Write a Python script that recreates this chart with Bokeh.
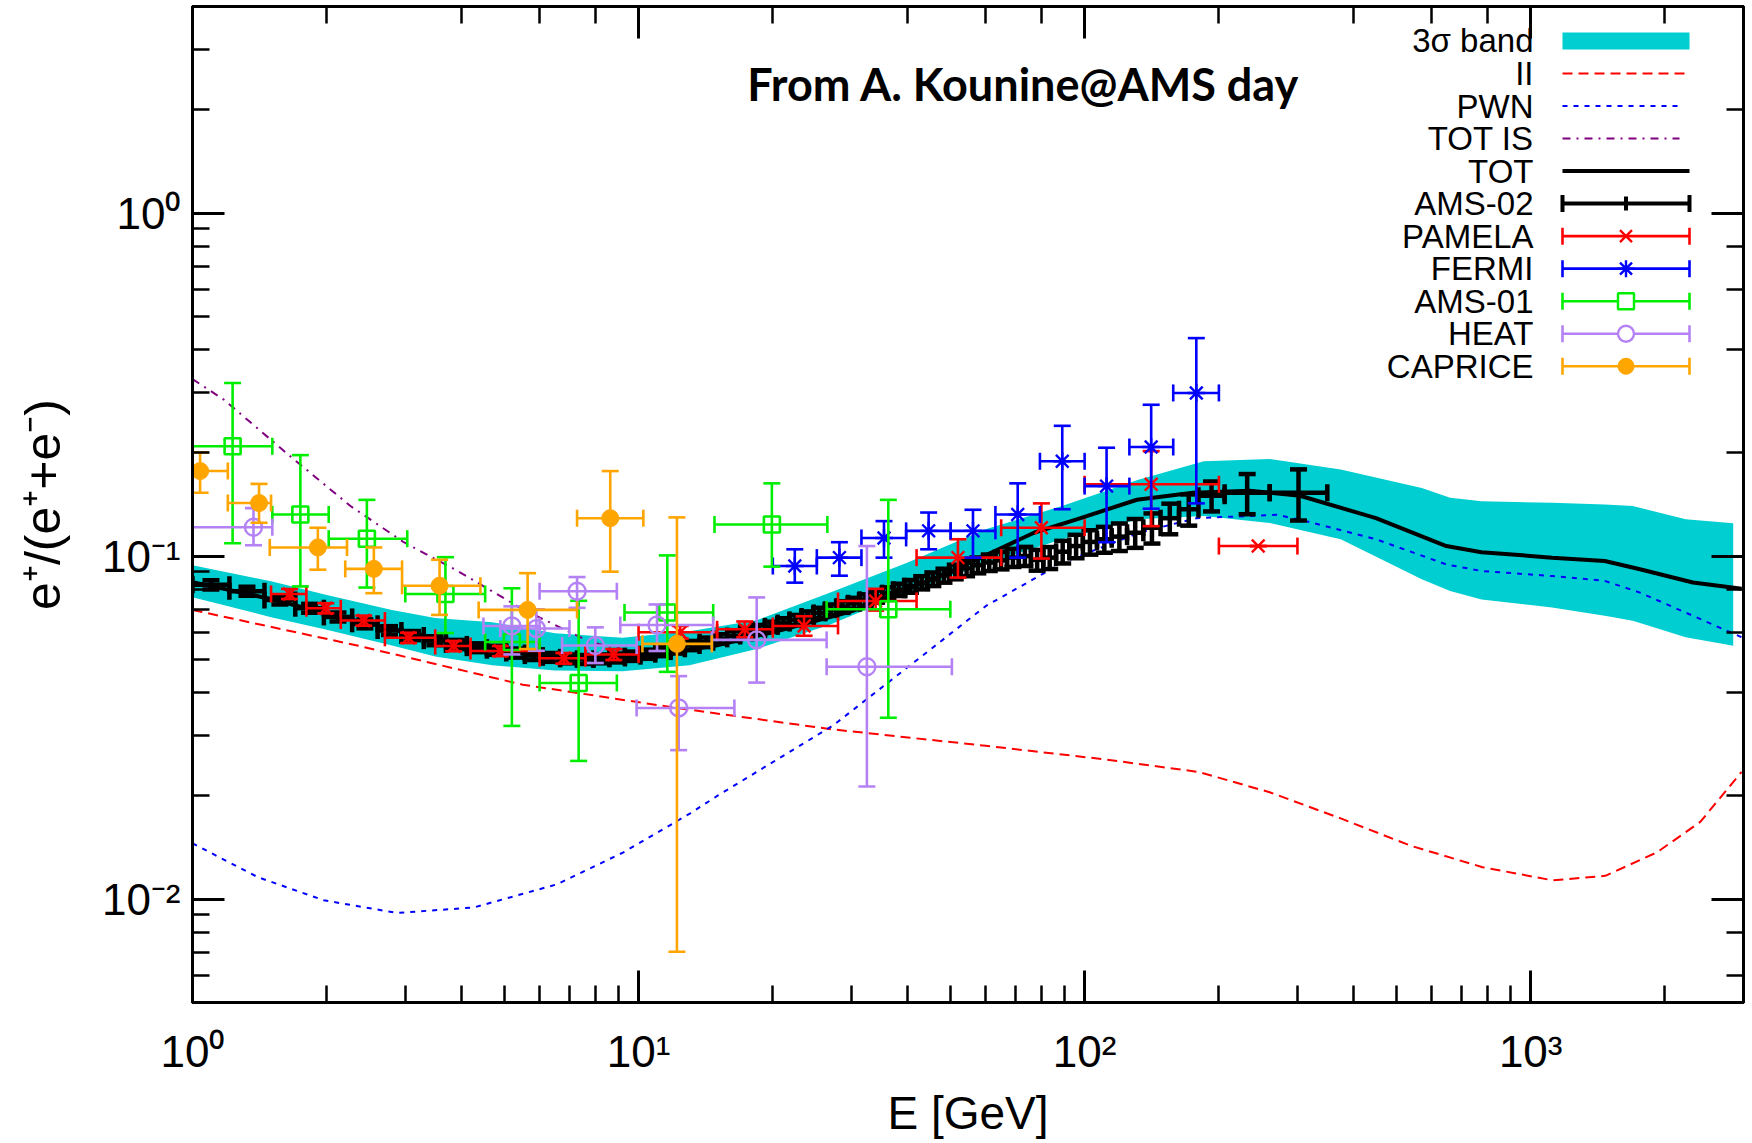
import math
from bokeh.plotting import figure
from bokeh.models import Range1d, LogAxis, LogTicker, CustomJSTickFormatter, Label
from bokeh.embed import file_html
from bokeh.resources import INLINE

# ---------------- data ----------------
band_E = [1.0, 1.5, 2.0, 2.8, 3.5, 4.7, 6.5, 9.2, 13.0, 18.4, 27.0, 40.0, 60.0, 89.0, 132.0,
          185.0, 260.0, 375.0, 570.0, 660.0, 776.0, 1117.0, 1466.0, 1694.0, 2226.0, 2845.0]
band_hi = [0.094, 0.0845, 0.077, 0.0697, 0.066, 0.0642, 0.0596, 0.0578, 0.0604, 0.065, 0.0785,
           0.0957, 0.1197, 0.140, 0.167, 0.189, 0.192, 0.179, 0.158, 0.148, 0.1446, 0.143,
           0.1415, 0.140, 0.128, 0.1246]
band_lo = [0.0759, 0.0664, 0.061, 0.0549, 0.051, 0.0481, 0.0464, 0.0462, 0.0481, 0.0536, 0.0633,
           0.0783, 0.095, 0.112, 0.128, 0.131, 0.125, 0.112, 0.0856, 0.0792, 0.0748, 0.0708,
           0.067, 0.0648, 0.058, 0.0548]

II_E = [1.0, 2.34, 5.5, 12.0, 27.0, 60.0, 110.0, 180.0, 260.0, 375.0, 540.0, 780.0, 1120.0,
        1470.0, 1920.0, 2400.0, 2970.0]
II_y = [0.0697, 0.0549, 0.0422, 0.0362, 0.0313, 0.0280, 0.0256, 0.0235, 0.0205, 0.0172, 0.0143,
        0.0124, 0.01135, 0.0117, 0.0137, 0.0168, 0.0235]

PWN_E = [1.0, 1.4, 1.97, 2.875, 4.27, 6.56, 9.25, 13.06, 15.1, 27.3, 40.5, 60.1, 89.3, 132.5,
         178.0, 270.0, 313.0, 450.0, 647.0, 776.0, 1117.0, 1466.0, 1758.0, 2311.0, 2972.0]
PWN_y = [0.01455, 0.0116, 0.00993, 0.00912, 0.00946, 0.01105, 0.0137, 0.0178, 0.0201, 0.0321,
         0.0479, 0.0716, 0.0957, 0.117, 0.129, 0.132, 0.1265, 0.112, 0.0946, 0.0905, 0.0875,
         0.0847, 0.0783, 0.067, 0.058]

TOTIS_E = [1.0, 1.175, 1.66, 2.26, 2.975, 3.92, 5.53, 7.8, 9.5]
TOTIS_y = [0.328, 0.286, 0.195, 0.140, 0.1098, 0.0907, 0.0697, 0.0562, 0.053]

TOT_E = [1.0, 1.5, 2.0, 3.0, 5.0, 7.0, 10.0, 15.0, 20.0, 30.0, 50.0, 77.0, 96.0, 131.0, 175.0,
         235.0, 304.0, 450.0, 647.0, 776.0, 1117.0, 1466.0, 1758.0, 2311.0, 2972.0]
TOT_y = [0.084, 0.075, 0.068, 0.060, 0.053, 0.0505, 0.0505, 0.055, 0.060, 0.069, 0.090, 0.117,
         0.128, 0.146, 0.153, 0.155, 0.150, 0.129, 0.107, 0.1027, 0.099, 0.0968, 0.0916,
         0.0838, 0.0804]

ams02_edges = [1.00, 1.21, 1.45, 1.70, 1.97, 2.28, 2.60, 2.94, 3.30, 3.70, 4.12, 4.57, 5.05, 5.56,
               6.10, 6.67, 7.28, 7.92, 8.60, 9.32, 10.10, 10.90, 11.80, 12.70, 13.70, 14.70,
               15.80, 16.90, 18.00, 19.20, 20.50, 21.80, 23.20, 24.70, 26.20, 27.80, 29.50,
               31.30, 33.20, 35.20, 37.30, 39.50, 41.90, 44.40, 47.00, 49.80, 52.80, 56.00,
               59.30, 63.00, 67.00, 71.20, 75.80, 80.80, 86.30, 92.40, 99.10, 106.6, 115.0,
               124.5, 135.4, 148.0, 162.8, 180.0, 206.0, 260.0, 350.0]
ams02_y = [0.0825, 0.0790, 0.0745, 0.0705, 0.0665, 0.0635, 0.0607, 0.0587, 0.0567, 0.0553,
           0.0541, 0.0532, 0.0522, 0.0513, 0.0507, 0.0502, 0.0500, 0.0502, 0.0505, 0.0511,
           0.0518, 0.0527, 0.0537, 0.0549, 0.0561, 0.0574, 0.0585, 0.0597, 0.0610, 0.0624,
           0.0638, 0.0652, 0.0667, 0.0683, 0.0698, 0.0713, 0.0729, 0.0746, 0.0763, 0.0780,
           0.0798, 0.0817, 0.0837, 0.0857, 0.0878, 0.0900, 0.0921, 0.0941, 0.0958, 0.0972,
           0.0990, 0.1000, 0.0975, 0.0990, 0.1030, 0.1070, 0.1100, 0.1120, 0.1140, 0.1170,
           0.1210, 0.1290, 0.1370, 0.1500, 0.1530, 0.1530]
ams02_dy = [0.0025, 0.0024, 0.0022, 0.0021, 0.0020, 0.0019, 0.0018, 0.0018, 0.0017, 0.0017,
            0.0016, 0.0016, 0.0016, 0.0015, 0.0015, 0.0015, 0.0015, 0.0015, 0.0015, 0.0016,
            0.0016, 0.0016, 0.0017, 0.0017, 0.0018, 0.0018, 0.0019, 0.0019, 0.0020, 0.0020,
            0.0021, 0.0022, 0.0023, 0.0024, 0.0025, 0.0026, 0.0027, 0.0028, 0.0030, 0.0031,
            0.0033, 0.0035, 0.0037, 0.0039, 0.0041, 0.0044, 0.0047, 0.0050, 0.0053, 0.0057,
            0.0060, 0.0064, 0.0068, 0.0073, 0.0078, 0.0084, 0.0090, 0.0097, 0.0105, 0.0113,
            0.0122, 0.0132, 0.0143, 0.0150, 0.0205, 0.0260]

pamela_E = [1.65, 1.99, 2.42, 3.05, 3.85, 4.9, 6.8, 8.8, 12.4, 17.3, 23.5, 34.0, 52.0, 80.0, 141.0, 245.0]
pamela_Elo = [1.5, 1.8, 2.15, 2.7, 3.5, 4.2, 6.0, 7.6, 10.0, 15.0, 20.0, 28.0, 42.0, 65.0, 100.0, 200.0]
pamela_Ehi = [1.8, 2.15, 2.7, 3.5, 4.2, 6.0, 7.6, 10.0, 15.0, 20.0, 28.0, 42.0, 65.0, 100.0, 200.0, 300.0]
pamela_y = [0.0776, 0.0705, 0.0649, 0.0578, 0.0547, 0.0529, 0.0504, 0.0517, 0.0600, 0.0612, 0.0626,
            0.0740, 0.0990, 0.121, 0.162, 0.107]
pamela_ylo = [0.0750, 0.0681, 0.0627, 0.0558, 0.0528, 0.0511, 0.0486, 0.0498, 0.0575, 0.0580,
              0.0586, 0.0694, 0.0866, 0.0984, 0.1223, 0.107]
pamela_yhi = [0.0802, 0.0729, 0.0671, 0.0598, 0.0566, 0.0547, 0.0522, 0.0536, 0.0626, 0.0645,
              0.0668, 0.0803, 0.112, 0.1425, 0.2023, 0.107]

fermi_E = [22.4, 28.2, 35.5, 44.7, 56.2, 70.8, 89.1, 112.0, 141.0, 178.0]
fermi_Elo = [20.0, 25.1, 31.6, 39.8, 50.1, 63.1, 79.4, 100.0, 126.0, 158.0]
fermi_Ehi = [25.1, 31.6, 39.8, 50.1, 63.1, 79.4, 100.0, 126.0, 158.0, 200.0]
fermi_y = [0.0936, 0.099, 0.113, 0.1185, 0.1185, 0.1323, 0.189, 0.160, 0.208, 0.299]
fermi_ylo = [0.0837, 0.0877, 0.099, 0.1047, 0.099, 0.099, 0.137, 0.1098, 0.1375, 0.1425]
fermi_yhi = [0.1047, 0.1098, 0.1265, 0.134, 0.1365, 0.163, 0.2398, 0.207, 0.2762, 0.432]

ams01_E = [1.23, 1.745, 2.46, 3.69, 5.2, 7.34, 11.6, 19.9, 36.3]
ams01_Elo = [0.95, 1.51, 2.02, 3.0, 4.53, 6.0, 9.3, 14.8, 26.4]
ams01_Ehi = [1.51, 2.02, 3.03, 4.53, 6.0, 8.94, 14.7, 26.5, 50.0]
ams01_y = [0.209, 0.1323, 0.1124, 0.0776, 0.0562, 0.0427, 0.0685, 0.1237, 0.070]
ams01_ylo = [0.109, 0.0816, 0.081, 0.0597, 0.032, 0.0253, 0.046, 0.0932, 0.0338]
ams01_yhi = [0.3195, 0.197, 0.1459, 0.0993, 0.0806, 0.0741, 0.1005, 0.163, 0.1459]

heat_E = [1.37, 5.2, 5.9, 7.28, 8.0, 11.0, 12.3, 18.4, 32.5]
heat_Elo = [0.95, 4.49, 4.9, 6.0, 6.74, 9.1, 9.9, 14.6, 26.4]
heat_Ehi = [1.51, 6.0, 7.0, 8.94, 9.9, 14.7, 16.4, 26.4, 50.4]
heat_y = [0.1214, 0.0626, 0.0615, 0.079, 0.0549, 0.063, 0.0361, 0.057, 0.0476]
heat_ylo = [0.1076, 0.0517, 0.0530, 0.0707, 0.0488, 0.0529, 0.0272, 0.0428, 0.0213]
heat_yhi = [0.138, 0.0714, 0.0700, 0.0869, 0.0620, 0.0723, 0.0447, 0.0758, 0.107]

caprice_E = [1.04, 1.41, 1.91, 2.55, 3.58, 5.64, 8.64, 12.19]
caprice_Elo = [0.9, 1.2, 1.49, 2.2, 2.95, 4.38, 7.28, 10.2]
caprice_Ehi = [1.2, 1.5, 2.22, 2.95, 4.42, 7.28, 10.25, 14.6]
caprice_y = [0.177, 0.1428, 0.106, 0.0918, 0.082, 0.0697, 0.129, 0.0555]
caprice_ylo = [0.153, 0.1251, 0.0913, 0.078, 0.0674, 0.0536, 0.0901, 0.00703]
caprice_yhi = [0.2006, 0.1624, 0.121, 0.106, 0.0976, 0.0892, 0.177, 0.1297]

legend_labels = ["3\u03c3 band", "II", "PWN", "TOT IS", "TOT", "AMS-02", "PAMELA", "FERMI",
                 "AMS-01", "HEAT", "CAPRICE"]
title_text = "From A. Kounine@AMS day"

# ---------------- styling ----------------
CYAN = "#00CED1"
RED = "#FF0000"
BLUE = "#0000FF"
PURPLE = "#800080"
GREEN = "#00EE00"
LAV = "#B482F5"
ORANGE = "#FFA500"
FONT = "Liberation Sans"

X0, X1 = 1.0, 3000.0
Y0, Y1 = 0.005, 4.0
FW, FH = 1551, 998
W, H = 1750, 1141
BL, BT = 192, 6

p = figure(width=W, height=H, x_axis_type="log", y_axis_type="log",
           x_range=Range1d(X0, X1), y_range=Range1d(Y0, Y1),
           output_backend="svg", toolbar_location=None,
           min_border_left=BL, min_border_right=W - BL - FW, min_border_top=BT,
           min_border_bottom=H - BT - FH,
           background_fill_color="white", border_fill_color="white")
p.grid.visible = False
p.outline_line_color = "black"
p.outline_line_width = 3

sup_code = """
const m = {'0':'\u2070','1':'\u00b9','2':'\u00b2','3':'\u00b3','4':'\u2074','5':'\u2075',
           '6':'\u2076','7':'\u2077','8':'\u2078','9':'\u2079','-':'\u207b'};
const e = Math.round(Math.log10(tick));
return '10' + String(e).split('').map(c => m[c]).join('');
"""

xax = p.xaxis[0]
yax = p.yaxis[0]
for ax in (xax, yax):
    ax.formatter = CustomJSTickFormatter(code=sup_code)
    ax.axis_line_width = 3
    ax.axis_line_color = "black"
    ax.major_tick_in = 32
    ax.major_tick_out = 0
    ax.minor_tick_in = 17
    ax.minor_tick_out = 0
    ax.major_tick_line_width = 3
    ax.minor_tick_line_width = 2.5
    ax.major_label_text_font = FONT
    ax.major_label_text_font_size = "44px"
    ax.major_label_text_color = "black"
    ax.axis_label_text_font = FONT
    ax.axis_label_text_font_style = "normal"
    ax.axis_label_text_color = "black"

xax.axis_label = "E [GeV]"
xax.axis_label_text_font_size = "46px"
xax.major_label_standoff = 24
xax.axis_label_standoff = 8
yax.axis_label = "e\u207a/(e\u207a+e\u207b)"
yax.axis_label_text_font_size = "50px"
yax.major_label_standoff = 12
yax.axis_label_standoff = 28

for loc in ("above", "right"):
    ax = LogAxis(ticker=LogTicker(), formatter=CustomJSTickFormatter(code="return '';"),
                 major_label_text_font_size="0px", major_label_standoff=0,
                 axis_line_width=3, major_tick_in=32, major_tick_out=0,
                 minor_tick_in=17, minor_tick_out=0,
                 major_tick_line_width=3, minor_tick_line_width=2.5)
    p.add_layout(ax, loc)

# ---------------- model curves ----------------
p.varea(x=band_E, y1=band_lo, y2=band_hi, fill_color=CYAN, fill_alpha=1.0)
p.line(II_E, II_y, line_color=RED, line_width=2, line_dash="10 6")
p.line(PWN_E, PWN_y, line_color=BLUE, line_width=2, line_dash="5 6")
p.line(TOTIS_E, TOTIS_y, line_color=PURPLE, line_width=2, line_dash="8 6 2 6")
p.line(TOT_E, TOT_y, line_color="black", line_width=4)

CAP = 17


def errbars(xc, xlo, xhi, yc, ylo, yhi, color, lw):
    p.segment(x0=xlo, y0=yc, x1=xhi, y1=yc, line_color=color, line_width=lw)
    p.segment(x0=xc, y0=ylo, x1=xc, y1=yhi, line_color=color, line_width=lw)
    p.scatter(x=xc, y=ylo, marker="dash", size=CAP, line_color=color, line_width=lw)
    p.scatter(x=xc, y=yhi, marker="dash", size=CAP, line_color=color, line_width=lw)
    p.scatter(x=xlo, y=yc, marker="dash", angle=math.pi / 2, size=CAP, line_color=color, line_width=lw)
    p.scatter(x=xhi, y=yc, marker="dash", angle=math.pi / 2, size=CAP, line_color=color, line_width=lw)


# AMS-02
a_lo = ams02_edges[:-1]
a_hi = ams02_edges[1:]
a_c = [math.sqrt(a * b) for a, b in zip(a_lo, a_hi)]
errbars(a_c, a_lo, a_hi, ams02_y,
        [y - d for y, d in zip(ams02_y, ams02_dy)],
        [y + d for y, d in zip(ams02_y, ams02_dy)], "black", 4.5)

# PAMELA
errbars(pamela_E, pamela_Elo, pamela_Ehi, pamela_y, pamela_ylo, pamela_yhi, RED, 2.6)
p.scatter(pamela_E, pamela_y, marker="x", size=18, line_color=RED, line_width=2.4)

# FERMI
errbars(fermi_E, fermi_Elo, fermi_Ehi, fermi_y, fermi_ylo, fermi_yhi, BLUE, 2.6)
p.scatter(fermi_E, fermi_y, marker="asterisk", size=18, line_color=BLUE, line_width=2.4)

# AMS-01
errbars(ams01_E, ams01_Elo, ams01_Ehi, ams01_y, ams01_ylo, ams01_yhi, GREEN, 2.6)
p.scatter(ams01_E, ams01_y, marker="square", size=16, line_color=GREEN, line_width=2.6,
          fill_color=None)

# HEAT
errbars(heat_E, heat_Elo, heat_Ehi, heat_y, heat_ylo, heat_yhi, LAV, 2.6)
p.scatter(heat_E, heat_y, marker="circle", size=17, line_color=LAV, line_width=2.4,
          fill_color=None)

# CAPRICE
errbars(caprice_E, caprice_Elo, caprice_Ehi, caprice_y, caprice_ylo, caprice_yhi, ORANGE, 2.6)
p.scatter(caprice_E, caprice_y, marker="circle", size=17, line_color=ORANGE,
          fill_color=ORANGE)


# ---------------- legend (frame pixel layout -> data coords) ----------------
def fx(px):
    return 10 ** (math.log10(X0) + px / FW * (math.log10(X1) - math.log10(X0)))


def fy(py):
    return 10 ** (math.log10(Y1) - py / FH * (math.log10(Y1) - math.log10(Y0)))


ROW0, STEP = 34.5, 32.6
TX, SX0, SX1 = 1341, 1370, 1497
SXC = (SX0 + SX1) / 2
rows = [ROW0 + STEP * i for i in range(len(legend_labels))]

for lab, r in zip(legend_labels, rows):
    p.add_layout(Label(x=fx(TX), y=fy(r), text=lab, text_align="right", text_baseline="middle",
                       text_font=FONT, text_font_size="33px", text_color="black"))

r = rows[0]
p.quad(left=[fx(SX0)], right=[fx(SX1)], top=[fy(r - 8.5)], bottom=[fy(r + 8.5)],
       fill_color=CYAN, line_color=None)
r = rows[1]
p.line([fx(SX0), fx(SX1)], [fy(r), fy(r)], line_color=RED, line_width=2, line_dash="10 6")
r = rows[2]
p.line([fx(SX0), fx(SX1 - 10)], [fy(r), fy(r)], line_color=BLUE, line_width=2, line_dash="5 6")
r = rows[3]
p.line([fx(SX0), fx(SX1 - 10)], [fy(r), fy(r)], line_color=PURPLE, line_width=2,
       line_dash="8 6 2 6")
r = rows[4]
p.line([fx(SX0), fx(SX1)], [fy(r), fy(r)], line_color="black", line_width=4)

sample_styles = [("black", 4, None), (RED, 2.6, "x"), (BLUE, 2.6, "asterisk"),
                 (GREEN, 2.6, "square"), (LAV, 2.6, "circle"), (ORANGE, 2.6, "dot")]
for (col, lw, mk), r in zip(sample_styles, rows[5:]):
    yc = fy(r)
    p.line([fx(SX0), fx(SX1)], [yc, yc], line_color=col, line_width=lw)
    p.scatter([fx(SX0), fx(SX1)], [yc, yc], marker="dash", angle=math.pi / 2, size=CAP,
              line_color=col, line_width=lw)
    if mk is None:
        p.segment(x0=[fx(SXC)], y0=[fy(r - 7)], x1=[fx(SXC)], y1=[fy(r + 7)],
                  line_color=col, line_width=lw)
    elif mk == "dot":
        p.scatter([fx(SXC)], [yc], marker="circle", size=16, line_color=col, fill_color=col)
    elif mk in ("square", "circle"):
        p.scatter([fx(SXC)], [yc], marker=mk, size=16, line_color=col, line_width=2.4,
                  fill_color="white")
    else:
        p.scatter([fx(SXC)], [yc], marker=mk, size=17, line_color=col, line_width=2.4)

# ---------------- slide annotation ----------------
p.add_layout(Label(x=fx(831), y=fy(78), text=title_text, text_align="center",
                   text_baseline="middle", text_font="Lato", text_font_style="bold",
                   text_font_size="45px", text_color="black"))

open("out.html", "w").write(file_html(p, INLINE))
